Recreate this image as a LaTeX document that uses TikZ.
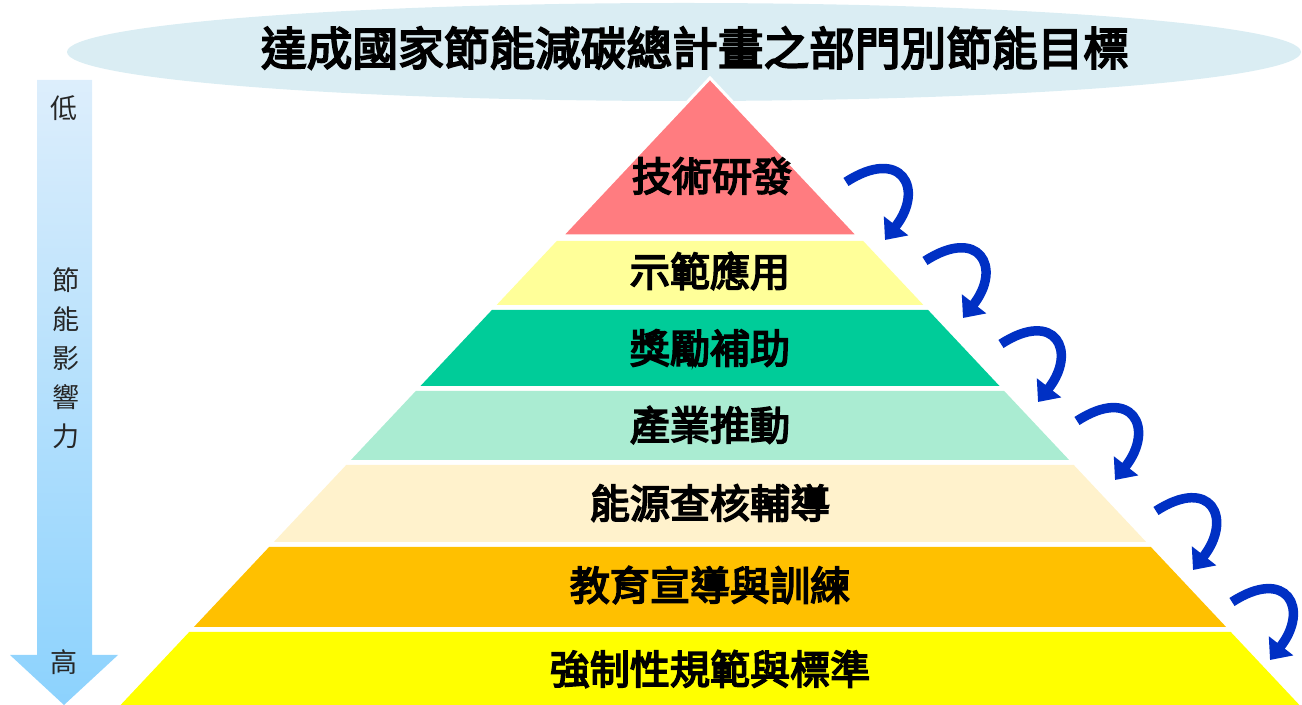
\documentclass[tikz,border=0pt]{standalone}
\usepackage{fontspec}
\newfontfamily\cjk{Noto Sans CJK TC}
\newfontfamily\cjkheavy[FakeBold=4]{Noto Sans CJK TC}
\usetikzlibrary{arrows.meta, positioning}

\definecolor{titlebg}{RGB}{218,237,243}
\definecolor{arrowblue}{RGB}{0,48,196}
\definecolor{laya}{RGB}{255,124,128}
\definecolor{layb}{RGB}{255,255,153}
\definecolor{layc}{RGB}{0,204,153}
\definecolor{layd}{RGB}{170,236,210}
\definecolor{laye}{RGB}{255,242,204}
\definecolor{layf}{RGB}{255,192,0}
\definecolor{layg}{RGB}{255,255,0}

\begin{document}
\begin{tikzpicture}[x=0.02cm, y=0.02cm, node distance=0.78cm,
    titletext/.style={font=\cjkheavy\fontsize{26pt}{30pt}\selectfont},
    layertext/.style={font=\cjkheavy\fontsize{22.8pt}{26pt}\selectfont},
    sidetext/.style={font=\cjk\fontsize{15.4pt}{18pt}\selectfont, text=black!85},
    bendarrow/.style={draw=arrowblue, line width=0.19cm, -{Triangle[length=0.36cm,width=0.6cm]}}]
    \useasboundingbox (0,0) rectangle (1302,-705);

    % title band
    \fill[titlebg] (684,-52) ellipse [x radius=617, y radius=49];
    \node[titletext] (title) at (695,-48) {達成國家節能減碳總計畫之部門別節能目標};

    % left arrow
    \shade[top color={rgb,255:red,221;green,238;blue,252}, bottom color={rgb,255:red,140;green,210;blue,253}]
        (37,-80) -- (92,-80) -- (92,-655) -- (118,-655) -- (64,-705) -- (10,-655) -- (37,-655) -- cycle;
    \node[sidetext] (low) at (64,-108) {低};
    \node[sidetext] (v1) at (66,-280) {節};
    \node[sidetext] (v2) [below of=v1] {能};
    \node[sidetext] (v3) [below of=v2] {影};
    \node[sidetext] (v4) [below of=v3] {響};
    \node[sidetext] (v5) [below of=v4] {力};
    \node[sidetext] (high) at (64,-662) {高};

    % pyramid
    \fill[laya, draw=white, line width=0.06cm] (710,-78) -- (858.5,-236) -- (561.5,-236) -- cycle;
    \fill[layb] (556.8,-241) -- (863.2,-241) -- (923.4,-305) -- (496.6,-305) -- cycle;
    \fill[layc] (491.9,-310) -- (928.1,-310) -- (999.5,-386) -- (420.5,-386) -- cycle;
    \fill[layd] (415.8,-391) -- (1004.2,-391) -- (1069.1,-460) -- (350.9,-460) -- cycle;
    \fill[laye] (346.2,-465) -- (1073.8,-465) -- (1146.2,-542) -- (273.8,-542) -- cycle;
    \fill[layf] (269.1,-547) -- (1150.9,-547) -- (1226.1,-627) -- (193.9,-627) -- cycle;
    \fill[layg] (189.2,-632) -- (1230.8,-632) -- (1299.4,-705) -- (120.6,-705) -- cycle;

    \node[layertext] (1) at (712,-176) {技術研發};
    \node[layertext] (2) at (710,-271) {示範應用};
    \node[layertext] (3) at (710,-348) {獎勵補助};
    \node[layertext] (4) at (710,-425) {產業推動};
    \node[layertext] (5) at (710,-503) {能源查核輔導};
    \node[layertext] (6) at (710,-585) {教育宣導與訓練};
    \node[layertext] (7) at (710,-669) {強制性規範與標準};

    % curved arrows down the right side
    \coordinate (t1) at (846,-182);  \coordinate (h1) at (885,-240);
    \coordinate (t2) at (925,-261);  \coordinate (h2) at (963,-318);
    \coordinate (t3) at (1001,-344); \coordinate (h3) at (1038,-402);
    \coordinate (t4) at (1077,-421); \coordinate (h4) at (1115,-480);
    \coordinate (t5) at (1156,-511); \coordinate (h5) at (1193,-570);
    \coordinate (t6) at (1232,-602); \coordinate (h6) at (1270,-660);
    \draw[bendarrow] (t1) to [out=33, in=52, looseness=2.4] (h1);
    \draw[bendarrow] (t2) to [out=33, in=52, looseness=2.4] (h2);
    \draw[bendarrow] (t3) to [out=33, in=52, looseness=2.4] (h3);
    \draw[bendarrow] (t4) to [out=33, in=52, looseness=2.4] (h4);
    \draw[bendarrow] (t5) to [out=33, in=52, looseness=2.4] (h5);
    \draw[bendarrow] (t6) to [out=33, in=52, looseness=2.4] (h6);
\end{tikzpicture}
\end{document}
